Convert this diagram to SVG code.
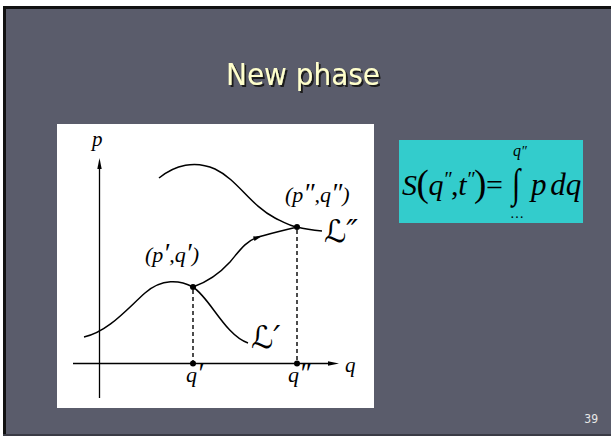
<svg xmlns="http://www.w3.org/2000/svg" width="611" height="436" viewBox="0 0 611 436">
<defs>
<filter id="sh" x="-10%" y="-20%" width="130%" height="150%">
<feDropShadow dx="2" dy="2" stdDeviation="0.4" flood-color="#1a1a1a" flood-opacity="1"/>
</filter>
</defs>
<style>
.ser{font-family:"Liberation Serif","Times New Roman",serif;font-style:italic;fill:#000}
.pr{font-size:27px}
.crv{fill:none;stroke:#000;stroke-width:1.5}
.dash{fill:none;stroke:#000;stroke-width:1.4;stroke-dasharray:4 3}
.ax{fill:none;stroke:#000;stroke-width:1.3}
.scr{font-family:"DejaVu Serif","DejaVu Sans",serif;font-style:italic;fill:#000}
.fm{font-family:"Liberation Serif","Times New Roman",serif;fill:#000}
.it{font-style:italic}
</style>
<rect x="0" y="0" width="611" height="436" fill="#ffffff"/>
<rect x="3" y="6" width="608" height="430" fill="#5a5c6b"/>
<path d="M4.5,436 V7.5 H611" fill="none" stroke="#111" stroke-width="3"/>
<line x1="3" y1="435" x2="611" y2="435" stroke="#3a3b45" stroke-width="2"/>
<g id="title">
<text x="303" y="85" text-anchor="middle" font-family="DejaVu Sans Condensed,'Liberation Sans',sans-serif" font-size="31" fill="#ffffcc" filter="url(#sh)">New phase</text>
</g>
<g id="page-number"><text x="598" y="423" text-anchor="end" font-family="DejaVu Sans Condensed,'Liberation Sans',sans-serif" font-size="12" fill="#e8e8e8">39</text></g>
<g id="graph">
<rect x="57" y="124" width="317" height="284" fill="#ffffff"/>
<g id="axes">
<line class="ax" x1="99.5" y1="398" x2="99.5" y2="165"/>
<polygon points="99.5,158 97.3,169 101.7,169" fill="#000"/>
<line class="ax" x1="73" y1="363.5" x2="332" y2="363.5"/>
<polygon points="339,363.5 328,361.3 328,365.7" fill="#000"/>
<text class="ser" x="92" y="146" font-size="21">p</text>
<text class="ser" x="345" y="372" font-size="21">q</text>
</g>
<g id="connectors">
<path class="crv" d="M84,337 C108,332 128,308 145,293 C162,278 180,280 193,287 C210,298 225,335 248,343"/>
<path class="crv" d="M193,287 C210,281 220,273 230,262 C240,250 246,241 258,237 C272,233 285,230 297,227"/>
<path class="crv" d="M159,178 C175,165 195,160 215,169 C238,180 250,205 275,218 C285,223 290,226 297,227 C305,229 312,230 322,231"/>
<polygon points="262,236 253,236.5 254.5,241" fill="#000"/>
<line class="dash" x1="193" y1="290" x2="193" y2="362"/>
<line class="dash" x1="297" y1="230" x2="297" y2="362"/>
</g>
<g id="point-p1">
<circle cx="193" cy="287" r="3" fill="#000"/>
<text class="ser" x="145" y="262" font-size="22">(p<tspan class="pr">′</tspan>,q<tspan class="pr">′</tspan>)</text>
</g>
<g id="point-p2">
<circle cx="297" cy="227" r="3" fill="#000"/>
<text class="ser" x="285" y="202" font-size="22">(p<tspan class="pr">″</tspan>,q<tspan class="pr">″</tspan>)</text>
</g>
<g id="q1"><circle cx="193" cy="363.5" r="3" fill="#000"/><text class="ser" x="186" y="382" font-size="22">q<tspan class="pr">′</tspan></text></g>
<g id="q2"><circle cx="297" cy="363.5" r="3" fill="#000"/><text class="ser" x="288" y="382" font-size="22">q<tspan class="pr">″</tspan></text></g>
<g id="L1"><text class="scr" x="251" y="348" font-size="31">ℒ′</text></g>
<g id="L2"><text class="scr" x="324" y="242" font-size="31">ℒ″</text></g>
</g>
<g id="formula">
<rect x="399" y="140" width="184" height="83" fill="#33cccc"/>
<text class="fm" x="402" y="195" font-size="30" letter-spacing="-0.4"><tspan class="it">S</tspan><tspan font-size="37" dy="1">(</tspan><tspan class="it" dy="-1">q</tspan><tspan class="it" font-size="20" dy="-9">″</tspan><tspan dy="9">,</tspan><tspan class="it">t</tspan><tspan class="it" font-size="20" dy="-9">″</tspan><tspan font-size="37" dy="10">)</tspan><tspan dy="-1">=</tspan></text>
<text class="fm it" transform="translate(512,197) scale(1,1.35)" font-size="30">∫</text>
<text class="fm it" x="513" y="156" font-size="16">q<tspan font-size="14">″</tspan></text>
<text class="fm" x="510" y="218" font-size="14">…</text>
<text class="fm it" x="531" y="195" font-size="31" word-spacing="-4">p dq</text>
</g>
</svg>
